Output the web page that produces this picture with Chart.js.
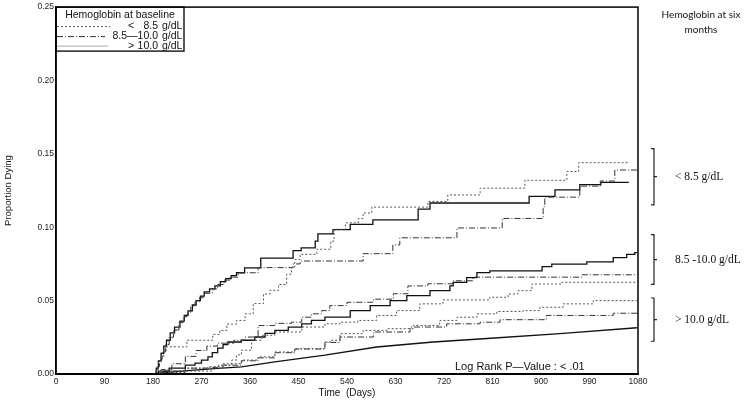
<!DOCTYPE html>
<html>
<head>
<meta charset="utf-8">
<script src="https://cdn.jsdelivr.net/npm/chart.js@4.4.0/dist/chart.umd.min.js"></script>
<style>
  html, body { margin: 0; padding: 0; background: #fff; }
  #wrap { position: relative; width: 750px; height: 401px; }
</style>
</head>
<body>
<div id="wrap"><canvas id="km" width="750" height="401"></canvas></div>
<script>
var dayTicks  = [0, 90, 180, 270, 360, 450, 540, 630, 720, 810, 900, 990, 1080];
var propTicks = [0, 0.05, 0.10, 0.15, 0.20, 0.25];

// [day, proportion dying]
// hemoglobin at six months < 8.5
var lowBaseLow = [[180,0],[185,0.003],[190,0.008],[195,0.012],[200,0.016],[205,0.0185],[243,0.023],[291,0.027],[304,0.0297],[317,0.034],[335,0.0365],[351,0.041],[366,0.048],[385,0.0545],[397,0.057],[413,0.061],[428,0.068],[437,0.0725],[443,0.078],[453,0.0815],[484,0.085],[510,0.0905],[516,0.0986],[537,0.103],[561,0.106],[570,0.1097],[586,0.1137],[690,0.1176],[727,0.122],[787,0.1266],[870,0.132],[948,0.138],[970,0.144],[1065,0.144]];
var lowBaseMid = [[180,0],[188,0.005],[192,0.01],[197,0.015],[203,0.02],[210,0.025],[218,0.03],[228,0.035],[236,0.039],[243,0.042],[250,0.046],[258,0.049],[266,0.052],[275,0.055],[290,0.058],[300,0.061],[312,0.064],[323,0.066],[338,0.069],[375,0.0725],[440,0.075],[453,0.077],[570,0.082],[625,0.088],[638,0.0928],[744,0.0995],[828,0.106],[904,0.114],[907,0.1205],[972,0.128],[1010,0.1315],[1037,0.139],[1078,0.139]];
var lowBaseHigh = [[180,0],[186,0.004],[190,0.009],[195,0.014],[200,0.019],[205,0.023],[212,0.028],[220,0.032],[230,0.036],[238,0.04],[245,0.043],[253,0.047],[260,0.05],[268,0.053],[275,0.056],[285,0.058],[295,0.06],[305,0.063],[315,0.065],[325,0.067],[335,0.069],[350,0.0723],[380,0.079],[440,0.084],[455,0.086],[481,0.0905],[486,0.0955],[514,0.0984],[546,0.102],[588,0.105],[672,0.1124],[694,0.1165],[878,0.121],[926,0.1255],[972,0.129],[1011,0.1306],[1063,0.1306]];

// hemoglobin at six months 8.5 - 10.0
var midBaseLow = [[180,0],[200,0.001],[240,0.002],[290,0.004],[310,0.006],[326,0.0095],[335,0.013],[344,0.0162],[363,0.023],[382,0.0264],[406,0.0286],[456,0.032],[499,0.0342],[527,0.0353],[560,0.0365],[595,0.0399],[632,0.0432],[675,0.0478],[718,0.0505],[805,0.0523],[839,0.0545],[857,0.0568],[883,0.0613],[939,0.0625],[1078,0.0625]];
var midBaseMid = [[180,0],[195,0.003],[215,0.007],[240,0.012],[260,0.016],[280,0.019],[300,0.021],[330,0.023],[351,0.0252],[375,0.033],[406,0.0345],[437,0.0353],[456,0.0387],[474,0.041],[493,0.0432],[508,0.0466],[540,0.0489],[589,0.051],[626,0.0547],[653,0.06],[690,0.0615],[737,0.0635],[774,0.066],[976,0.0676],[1078,0.0676]];
var midBaseHigh = [[180,0],[190,0.002],[210,0.004],[240,0.006],[258,0.0074],[270,0.0095],[282,0.0117],[290,0.0145],[300,0.0176],[310,0.02],[319,0.0218],[344,0.023],[369,0.0252],[388,0.0277],[406,0.0297],[431,0.032],[456,0.0342],[474,0.0365],[499,0.0387],[546,0.0432],[583,0.0466],[620,0.05],[651,0.0534],[694,0.0568],[731,0.06],[737,0.0624],[762,0.0657],[781,0.0691],[805,0.0703],[902,0.0732],[920,0.0748],[985,0.0764],[1034,0.0793],[1059,0.0815],[1074,0.0827],[1078,0.0827]];

// hemoglobin at six months > 10.0
var highBaseLow = [[180,0],[200,0.002],[240,0.004],[282,0.005],[310,0.007],[344,0.0095],[375,0.0117],[406,0.015],[443,0.0173],[499,0.0218],[510,0.023],[527,0.0275],[570,0.0297],[614,0.0309],[663,0.0331],[712,0.0365],[744,0.0387],[781,0.041],[818,0.0426],[867,0.0432],[898,0.0455],[941,0.0478],[997,0.05],[1078,0.05]];
var highBaseMid = [[180,0],[200,0.002],[240,0.004],[282,0.0045],[300,0.006],[344,0.009],[375,0.011],[406,0.0145],[443,0.017],[499,0.0215],[527,0.0252],[589,0.0286],[657,0.032],[725,0.0342],[787,0.0353],[824,0.037],[910,0.0399],[1034,0.0414],[1078,0.042]];
var highBaseHigh = [[180,0],[200,0.001],[250,0.0025],[300,0.0038],[344,0.0049],[406,0.0083],[499,0.0128],[595,0.0184],[700,0.0218],[800,0.0242],[935,0.0275],[1078,0.0315]];

var baselineLabels = ["<", "8.5\u201410.0", ">"];
var baselineValues = ["8.5", "", "10.0"];
var sixMonthLabels = ["< 8.5 g/dL", "8.5 -10.0 g/dL", "> 10.0 g/dL"];
var sixMonthRanges = [[0.1536, 0.1153], [0.0949, 0.0611], [0.0518, 0.0223]];

var dotted  = [2, 2];
var dashDot = [6, 2, 1, 2];

function pts(arr) {
  return arr.map(function(p){ return {x: p[0], y: p[1]}; });
}
function curve(arr, dash, color, width, stepped) {
  return {
    data: pts(arr),
    borderColor: color,
    borderWidth: width,
    borderDash: dash,
    stepped: stepped,
    pointRadius: 0,
    fill: false,
    tension: 0
  };
}

var extras = {
  id: 'extras',
  afterDraw: function(chart) {
    var ctx = chart.ctx, a = chart.chartArea, ys = chart.scales.y;
    ctx.save();

    // frame
    ctx.strokeStyle = '#000';
    ctx.lineWidth = 1.5;
    ctx.setLineDash([]);
    ctx.strokeRect(a.left, a.top, a.right - a.left, a.bottom - a.top);

    // legend box
    var lx = a.left, ly = a.top, lw = 128, lh = 44;
    ctx.fillStyle = '#fff';
    ctx.fillRect(lx + 1, ly + 1, lw - 1, lh - 1);
    ctx.lineWidth = 1.3;
    ctx.strokeRect(lx, ly, lw, lh);
    ctx.fillStyle = '#111';
    ctx.font = "10.5px 'Liberation Sans', Arial, sans-serif";
    ctx.textBaseline = 'middle';
    ctx.textAlign = 'center';
    ctx.fillText('Hemoglobin at baseline', lx + 64, ly + 8);
    var rowY = [19.5, 29.5, 39];
    var rowDash = [dotted, dashDot, []];
    var rowColor = ['#555', '#333', '#aaa'];
    var rowEnd = [54, 49, 52];
    for (var i = 0; i < 3; i++) {
      ctx.strokeStyle = rowColor[i];
      ctx.lineWidth = 1;
      ctx.setLineDash(rowDash[i]);
      ctx.beginPath();
      ctx.moveTo(lx + 1, ly + rowY[i]);
      ctx.lineTo(lx + rowEnd[i], ly + rowY[i]);
      ctx.stroke();
      ctx.setLineDash([]);
      ctx.textAlign = 'right';
      if (baselineValues[i]) {
        ctx.fillText(baselineValues[i], lx + 102, ly + rowY[i]);
        ctx.textAlign = 'left';
        ctx.fillText(baselineLabels[i], lx + 72, ly + rowY[i]);
      } else {
        ctx.fillText(baselineLabels[i], lx + 102, ly + rowY[i]);
      }
      ctx.textAlign = 'left';
      ctx.fillText('g/dL', lx + 106, ly + rowY[i]);
    }

    // log rank note
    ctx.font = "11px 'Liberation Sans', Arial, sans-serif";
    ctx.textAlign = 'left';
    ctx.fillText('Log Rank P\u2014Value : < .01', a.left + 399, a.bottom - 7);

    // six-month groups on the right
    ctx.strokeStyle = '#222';
    ctx.lineWidth = 1.2;
    var bx = a.right + 16;
    for (var j = 0; j < 3; j++) {
      var y0 = ys.getPixelForValue(sixMonthRanges[j][0]);
      var y1 = ys.getPixelForValue(sixMonthRanges[j][1]);
      var ym = (y0 + y1) / 2;
      ctx.beginPath();
      ctx.moveTo(bx - 3, y0);
      ctx.lineTo(bx, y0);
      ctx.lineTo(bx, y1);
      ctx.lineTo(bx - 3, y1);
      ctx.moveTo(bx, ym);
      ctx.lineTo(bx + 3, ym);
      ctx.stroke();
      ctx.font = "11.5px 'Liberation Serif', 'Times New Roman', serif";
      ctx.fillStyle = '#111';
      ctx.fillText(sixMonthLabels[j], bx + 21, ym);
    }
    ctx.font = "10px Lato, 'Liberation Sans', sans-serif";
    ctx.textAlign = 'center';
    ctx.fillText('Hemoglobin at six', 701, 15);
    ctx.fillText('months', 701, 30);
    ctx.restore();
  }
};

Chart.defaults.font.family = "'Liberation Sans', Arial, sans-serif";
Chart.defaults.color = '#222';

new Chart(document.getElementById('km'), {
  type: 'line',
  data: {
    datasets: [
      curve(lowBaseLow,   dotted,  '#555', 1,   'before'),
      curve(lowBaseMid,   dashDot, '#333', 1,   'before'),
      curve(lowBaseHigh,  [],      '#111', 1.3, 'before'),
      curve(midBaseLow,   dotted,  '#555', 1,   'before'),
      curve(midBaseMid,   dashDot, '#333', 1,   'before'),
      curve(midBaseHigh,  [],      '#111', 1.3, 'before'),
      curve(highBaseLow,  dotted,  '#555', 1,   'before'),
      curve(highBaseMid,  dashDot, '#333', 1,   'before'),
      curve(highBaseHigh, [],      '#111', 1.3, false)
    ]
  },
  options: {
    responsive: false,
    animation: false,
    layout: { padding: { top: 4, right: 112, left: 0, bottom: 0 } },
    plugins: { legend: { display: false }, tooltip: { enabled: false } },
    scales: {
      x: {
        type: 'linear',
        min: 0, max: 1080,
        afterBuildTicks: function(axis){ axis.ticks = dayTicks.map(function(v){ return {value: v}; }); },
        afterFit: function(axis){ axis.height = 27; },
        grid: { display: false, drawTicks: false },
        border: { display: true, color: '#000', width: 2 },
        ticks: { font: { size: 8.5 }, padding: 3, maxRotation: 0, autoSkip: false, callback: function(v){ return String(v); } },
        title: { display: true, text: 'Time  (Days)', font: { size: 10 }, padding: { top: 0, bottom: 2 }, color: '#111' }
      },
      y: {
        min: 0, max: 0.25,
        afterBuildTicks: function(axis){ axis.ticks = propTicks.map(function(v){ return {value: v}; }); },
        afterFit: function(axis){ axis.width = 56; },
        grid: { display: false, drawTicks: false },
        border: { display: true, color: '#000', width: 1.5 },
        ticks: { font: { size: 8.5 }, padding: 2, callback: function(v){ return v.toFixed(2); } },
        title: { display: true, text: 'Proportion Dying', font: { size: 9.5 }, padding: { top: 3, bottom: 0 }, color: '#111' }
      }
    }
  },
  plugins: [extras]
});
</script>
</body>
</html>
